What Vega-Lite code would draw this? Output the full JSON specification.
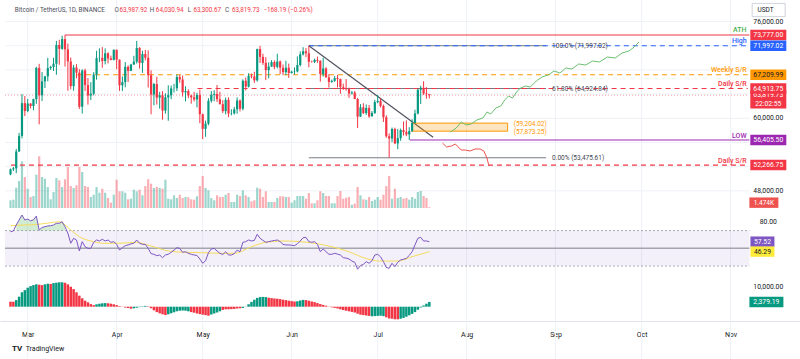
{
"$schema": "https://vega.github.io/schema/vega-lite/v6.json",
"width": 800,
"height": 359,
"autosize": {"type": "none"},
"padding": 0,
"background": "#ffffff",
"config": {"view": {"stroke": null}, "text": {"font": "Roboto"}, "axis": {"labelFont": "Roboto"}},
"datasets": {
"c": [
{"date":"2024-02-24","o":50732,"h":51698,"l":50585,"c":51571,"v":15.4,"rsi":68.7,"m":2500,"mu":0},
{"date":"2024-02-25","o":51571,"h":51950,"l":51280,"c":51733,"v":16.6,"rsi":69.5,"m":2500,"mu":0},
{"date":"2024-02-26","o":51733,"h":54938,"l":50931,"c":54522,"v":40.6,"rsi":76.3,"m":3300,"mu":1},
{"date":"2024-02-27","o":54522,"h":57588,"l":54450,"c":57085,"v":54,"rsi":81.9,"m":5000,"mu":1},
{"date":"2024-02-28","o":57085,"h":64000,"l":56690,"c":62504,"v":93.4,"rsi":87.5,"m":7200,"mu":1},
{"date":"2024-02-29","o":62504,"h":63676,"l":60364,"c":61198,"v":62,"rsi":81.9,"m":8300,"mu":1},
{"date":"2024-03-01","o":61198,"h":63200,"l":61000,"c":62440,"v":38.6,"rsi":83,"m":9500,"mu":1},
{"date":"2024-03-02","o":62440,"h":62485,"l":61610,"c":62029,"v":22,"rsi":81,"m":10300,"mu":1},
{"date":"2024-03-03","o":62029,"h":63230,"l":61320,"c":63168,"v":24,"rsi":82,"m":10800,"mu":1},
{"date":"2024-03-04","o":63168,"h":68500,"l":62386,"c":68330,"v":66.6,"rsi":86.4,"m":11200,"mu":1},
{"date":"2024-03-05","o":68330,"h":69000,"l":59005,"c":63801,"v":103.4,"rsi":70.6,"m":11000,"mu":0},
{"date":"2024-03-06","o":63801,"h":67637,"l":62848,"c":66106,"v":62,"rsi":73.5,"m":10800,"mu":0},
{"date":"2024-03-07","o":66106,"h":67000,"l":65002,"c":66926,"v":58.6,"rsi":74.4,"m":11200,"mu":1},
{"date":"2024-03-08","o":66926,"h":69990,"l":66121,"c":68300,"v":42,"rsi":75.2,"m":11500,"mu":1},
{"date":"2024-03-09","o":68300,"h":68669,"l":67993,"c":68498,"v":17.4,"rsi":75.5,"m":11400,"mu":0},
{"date":"2024-03-10","o":68498,"h":70000,"l":67819,"c":69020,"v":32,"rsi":76.3,"m":11800,"mu":1},
{"date":"2024-03-11","o":69020,"h":72800,"l":67195,"c":72124,"v":60,"rsi":78.2,"m":12000,"mu":1},
{"date":"2024-03-12","o":72124,"h":72969,"l":68845,"c":71481,"v":55.4,"rsi":78.2,"m":12200,"mu":1},
{"date":"2024-03-13","o":71481,"h":73650,"l":71334,"c":73083,"v":42,"rsi":80,"m":12200,"mu":1},
{"date":"2024-03-14","o":73083,"h":73777,"l":68555,"c":71397,"v":57.4,"rsi":74.4,"m":12000,"mu":0},
{"date":"2024-03-15","o":71397,"h":72358,"l":64555,"c":69403,"v":82,"rsi":67,"m":11200,"mu":0},
{"date":"2024-03-16","o":69403,"h":70043,"l":64780,"c":65316,"v":44,"rsi":55.7,"m":10000,"mu":0},
{"date":"2024-03-17","o":65316,"h":68845,"l":64545,"c":68390,"v":40,"rsi":61.3,"m":8800,"mu":0},
{"date":"2024-03-18","o":68390,"h":68957,"l":66600,"c":67548,"v":45.4,"rsi":59.4,"m":7200,"mu":0},
{"date":"2024-03-19","o":67548,"h":68125,"l":61555,"c":61913,"v":82,"rsi":47,"m":5500,"mu":0},
{"date":"2024-03-20","o":61913,"h":68100,"l":60775,"c":67913,"v":72,"rsi":57.5,"m":4200,"mu":0},
{"date":"2024-03-21","o":67913,"h":68200,"l":64529,"c":65491,"v":44,"rsi":51.8,"m":3000,"mu":0},
{"date":"2024-03-22","o":65491,"h":66650,"l":62260,"c":63778,"v":42,"rsi":50,"m":2200,"mu":0},
{"date":"2024-03-23","o":63778,"h":65975,"l":63000,"c":64062,"v":22,"rsi":50,"m":1300,"mu":0},
{"date":"2024-03-24","o":64062,"h":67624,"l":63790,"c":67234,"v":26.6,"rsi":56.8,"m":800,"mu":0},
{"date":"2024-03-25","o":67234,"h":71150,"l":66385,"c":69958,"v":42,"rsi":59.4,"m":1200,"mu":1},
{"date":"2024-03-26","o":69958,"h":71561,"l":69280,"c":69987,"v":30.6,"rsi":58.3,"m":1500,"mu":1},
{"date":"2024-03-27","o":69987,"h":71769,"l":68359,"c":69455,"v":38.6,"rsi":60.2,"m":1700,"mu":1},
{"date":"2024-03-28","o":69455,"h":71552,"l":68903,"c":70745,"v":30.6,"rsi":58.3,"m":1800,"mu":1},
{"date":"2024-03-29","o":70745,"h":70916,"l":69078,"c":69892,"v":20,"rsi":59.4,"m":1700,"mu":0},
{"date":"2024-03-30","o":69892,"h":70355,"l":69601,"c":69645,"v":10.6,"rsi":56.8,"m":1500,"mu":0},
{"date":"2024-03-31","o":69645,"h":71366,"l":69562,"c":71333,"v":26.6,"rsi":57.5,"m":1200,"mu":0},
{"date":"2024-04-01","o":71333,"h":71342,"l":68110,"c":69702,"v":56.6,"rsi":54.5,"m":800,"mu":0},
{"date":"2024-04-02","o":69702,"h":69708,"l":64533,"c":65447,"v":33.4,"rsi":48.1,"m":300,"mu":0},
{"date":"2024-04-03","o":65447,"h":66914,"l":64493,"c":65980,"v":33.4,"rsi":50.7,"m":-100,"mu":0},
{"date":"2024-04-04","o":65980,"h":69291,"l":65113,"c":68508,"v":30.6,"rsi":53,"m":-400,"mu":0},
{"date":"2024-04-05","o":68508,"h":68725,"l":66011,"c":67837,"v":17.4,"rsi":53.8,"m":-700,"mu":0},
{"date":"2024-04-06","o":67837,"h":69000,"l":67800,"c":68896,"v":18.6,"rsi":55,"m":-1000,"mu":0},
{"date":"2024-04-07","o":68896,"h":70326,"l":68824,"c":69360,"v":36.6,"rsi":55.7,"m":-800,"mu":1},
{"date":"2024-04-08","o":69360,"h":72797,"l":69043,"c":71620,"v":33.4,"rsi":59.4,"m":-500,"mu":1},
{"date":"2024-04-09","o":71620,"h":71758,"l":68210,"c":69146,"v":36.6,"rsi":55.7,"m":-200,"mu":1},
{"date":"2024-04-10","o":69146,"h":71172,"l":67518,"c":70631,"v":25.4,"rsi":54.5,"m":200,"mu":1},
{"date":"2024-04-11","o":70631,"h":71305,"l":69567,"c":70006,"v":44,"rsi":54.5,"m":400,"mu":1},
{"date":"2024-04-12","o":70006,"h":71227,"l":65086,"c":67117,"v":57.4,"rsi":50,"m":200,"mu":0},
{"date":"2024-04-13","o":67117,"h":67931,"l":60660,"c":63924,"v":48.6,"rsi":44,"m":-800,"mu":0},
{"date":"2024-04-14","o":63924,"h":65840,"l":62135,"c":65661,"v":40,"rsi":43.3,"m":-1800,"mu":0},
{"date":"2024-04-15","o":65661,"h":66867,"l":62274,"c":63419,"v":42,"rsi":41.7,"m":-2700,"mu":0},
{"date":"2024-04-16","o":63419,"h":64365,"l":61600,"c":63793,"v":40,"rsi":42.5,"m":-3300,"mu":0},
{"date":"2024-04-17","o":63793,"h":64499,"l":59768,"c":61277,"v":38.6,"rsi":39.5,"m":-3800,"mu":0},
{"date":"2024-04-18","o":61277,"h":64125,"l":60775,"c":63470,"v":56.6,"rsi":42.5,"m":-4200,"mu":0},
{"date":"2024-04-19","o":63470,"h":65450,"l":59600,"c":63819,"v":18.6,"rsi":43.3,"m":-3800,"mu":1},
{"date":"2024-04-20","o":63819,"h":65419,"l":63172,"c":64941,"v":17.4,"rsi":45.5,"m":-3300,"mu":1},
{"date":"2024-04-21","o":64941,"h":65695,"l":64278,"c":64960,"v":25.4,"rsi":48,"m":-2800,"mu":1},
{"date":"2024-04-22","o":64960,"h":67233,"l":64500,"c":66819,"v":20,"rsi":50.7,"m":-2300,"mu":1},
{"date":"2024-04-23","o":66819,"h":67199,"l":65864,"c":66414,"v":26.6,"rsi":50,"m":-2000,"mu":1},
{"date":"2024-04-24","o":66414,"h":67075,"l":63589,"c":64289,"v":20,"rsi":45.5,"m":-1900,"mu":1},
{"date":"2024-04-25","o":64289,"h":65297,"l":62794,"c":64499,"v":22,"rsi":46.2,"m":-2000,"mu":1},
{"date":"2024-04-26","o":64499,"h":64789,"l":63322,"c":63770,"v":21.4,"rsi":44.4,"m":-2300,"mu":1},
{"date":"2024-04-27","o":63770,"h":63923,"l":62424,"c":63461,"v":17.4,"rsi":43.3,"m":-2700,"mu":0},
{"date":"2024-04-28","o":63461,"h":64370,"l":62781,"c":63119,"v":16.6,"rsi":42.5,"m":-3000,"mu":0},
{"date":"2024-04-29","o":63119,"h":64228,"l":61794,"c":63866,"v":23.4,"rsi":42,"m":-3400,"mu":0},
{"date":"2024-04-30","o":63866,"h":64734,"l":59191,"c":60672,"v":44,"rsi":38,"m":-3700,"mu":0},
{"date":"2024-05-01","o":60672,"h":60780,"l":56552,"c":58254,"v":64,"rsi":33.2,"m":-4000,"mu":0},
{"date":"2024-05-02","o":58254,"h":59625,"l":56938,"c":59124,"v":40,"rsi":36,"m":-4200,"mu":0},
{"date":"2024-05-03","o":59124,"h":63320,"l":58848,"c":62889,"v":35.4,"rsi":45,"m":-4500,"mu":0},
{"date":"2024-05-04","o":62889,"h":64494,"l":62599,"c":63891,"v":20,"rsi":49.3,"m":-3900,"mu":1},
{"date":"2024-05-05","o":63891,"h":64646,"l":62822,"c":64031,"v":15.4,"rsi":50,"m":-3400,"mu":1},
{"date":"2024-05-06","o":64031,"h":65500,"l":62700,"c":63161,"v":25.4,"rsi":47,"m":-2900,"mu":1},
{"date":"2024-05-07","o":63161,"h":64390,"l":62300,"c":62334,"v":22,"rsi":44.4,"m":-2300,"mu":1},
{"date":"2024-05-08","o":62334,"h":62995,"l":60888,"c":61187,"v":22,"rsi":43,"m":-1600,"mu":0},
{"date":"2024-05-09","o":61187,"h":63420,"l":60648,"c":63049,"v":26.6,"rsi":46.2,"m":-1300,"mu":0},
{"date":"2024-05-10","o":63049,"h":63469,"l":60187,"c":60792,"v":30,"rsi":42.5,"m":-1300,"mu":0},
{"date":"2024-05-11","o":60792,"h":61490,"l":60488,"c":60825,"v":12,"rsi":42.5,"m":-1200,"mu":0},
{"date":"2024-05-12","o":60825,"h":61888,"l":60610,"c":61484,"v":12,"rsi":44,"m":-1100,"mu":0},
{"date":"2024-05-13","o":61484,"h":63450,"l":60750,"c":62940,"v":26.6,"rsi":48,"m":-900,"mu":0},
{"date":"2024-05-14","o":62940,"h":63118,"l":61142,"c":61577,"v":24,"rsi":46.2,"m":-800,"mu":0},
{"date":"2024-05-15","o":61577,"h":66444,"l":61330,"c":66206,"v":35.4,"rsi":56.8,"m":-600,"mu":1},
{"date":"2024-05-16","o":66206,"h":66752,"l":64602,"c":65235,"v":25.4,"rsi":57.5,"m":100,"mu":1},
{"date":"2024-05-17","o":65235,"h":67451,"l":65106,"c":67024,"v":22,"rsi":59.4,"m":1200,"mu":1},
{"date":"2024-05-18","o":67024,"h":67400,"l":66600,"c":66915,"v":13.4,"rsi":58.3,"m":2400,"mu":1},
{"date":"2024-05-19","o":66915,"h":67700,"l":65857,"c":66274,"v":15.4,"rsi":59,"m":3500,"mu":1},
{"date":"2024-05-20","o":66274,"h":71515,"l":66060,"c":71446,"v":40.6,"rsi":65.8,"m":4400,"mu":1},
{"date":"2024-05-21","o":71446,"h":71980,"l":69162,"c":70148,"v":38.6,"rsi":61.3,"m":4800,"mu":1},
{"date":"2024-05-22","o":70148,"h":70666,"l":68832,"c":69166,"v":22,"rsi":59,"m":4900,"mu":1},
{"date":"2024-05-23","o":69166,"h":70096,"l":66312,"c":67969,"v":33.4,"rsi":56.8,"m":4800,"mu":1},
{"date":"2024-05-24","o":67969,"h":69250,"l":66600,"c":68549,"v":12,"rsi":57.5,"m":4500,"mu":0},
{"date":"2024-05-25","o":68549,"h":69610,"l":68500,"c":69290,"v":12,"rsi":58.3,"m":4300,"mu":0},
{"date":"2024-05-26","o":69290,"h":69562,"l":68128,"c":68508,"v":12,"rsi":58.8,"m":4100,"mu":0},
{"date":"2024-05-27","o":68508,"h":70687,"l":68250,"c":69394,"v":20,"rsi":59.4,"m":4000,"mu":0},
{"date":"2024-05-28","o":69394,"h":69560,"l":67300,"c":68366,"v":23.4,"rsi":57.5,"m":3800,"mu":0},
{"date":"2024-05-29","o":68366,"h":68897,"l":67125,"c":67635,"v":23.4,"rsi":54.5,"m":3500,"mu":0},
{"date":"2024-05-30","o":67635,"h":69500,"l":67119,"c":68352,"v":22,"rsi":53.8,"m":3300,"mu":0},
{"date":"2024-05-31","o":68352,"h":69044,"l":66670,"c":67491,"v":22,"rsi":53.8,"m":3000,"mu":0},
{"date":"2024-06-01","o":67491,"h":67860,"l":67387,"c":67706,"v":10.6,"rsi":53.5,"m":2800,"mu":0},
{"date":"2024-06-02","o":67706,"h":68409,"l":67257,"c":67752,"v":15.4,"rsi":53,"m":2600,"mu":0},
{"date":"2024-06-03","o":67752,"h":70230,"l":67589,"c":68804,"v":24,"rsi":55,"m":2700,"mu":1},
{"date":"2024-06-04","o":68804,"h":71063,"l":68567,"c":70567,"v":24,"rsi":58.3,"m":3100,"mu":1},
{"date":"2024-06-05","o":70567,"h":71758,"l":70383,"c":71082,"v":24,"rsi":62,"m":3400,"mu":1},
{"date":"2024-06-06","o":71082,"h":71625,"l":70119,"c":70757,"v":18.6,"rsi":62.4,"m":3300,"mu":0},
{"date":"2024-06-07","o":70757,"h":71997,"l":68420,"c":69342,"v":30,"rsi":57.5,"m":3000,"mu":0},
{"date":"2024-06-08","o":69342,"h":69524,"l":69210,"c":69305,"v":9.4,"rsi":56.8,"m":2600,"mu":0},
{"date":"2024-06-09","o":69305,"h":69858,"l":69125,"c":69648,"v":9.4,"rsi":57.5,"m":2300,"mu":0},
{"date":"2024-06-10","o":69648,"h":70195,"l":69172,"c":69512,"v":15.4,"rsi":54.5,"m":1800,"mu":0},
{"date":"2024-06-11","o":69512,"h":69568,"l":66051,"c":67322,"v":33.4,"rsi":46.2,"m":1300,"mu":0},
{"date":"2024-06-12","o":67322,"h":69999,"l":66902,"c":68242,"v":30,"rsi":49.3,"m":900,"mu":0},
{"date":"2024-06-13","o":68242,"h":68450,"l":66761,"c":66757,"v":24,"rsi":46.2,"m":500,"mu":0},
{"date":"2024-06-14","o":66757,"h":67300,"l":65078,"c":66012,"v":24,"rsi":43.3,"m":100,"mu":0},
{"date":"2024-06-15","o":66012,"h":66402,"l":65871,"c":66191,"v":9.4,"rsi":43.3,"m":-300,"mu":0},
{"date":"2024-06-16","o":66191,"h":66983,"l":66031,"c":66640,"v":9.4,"rsi":44.4,"m":-600,"mu":0},
{"date":"2024-06-17","o":66640,"h":67188,"l":65104,"c":66490,"v":24,"rsi":43.5,"m":-900,"mu":0},
{"date":"2024-06-18","o":66490,"h":66556,"l":64066,"c":65159,"v":34,"rsi":42.5,"m":-1300,"mu":0},
{"date":"2024-06-19","o":65159,"h":65723,"l":64694,"c":64960,"v":18.6,"rsi":39.5,"m":-1700,"mu":0},
{"date":"2024-06-20","o":64960,"h":66482,"l":64560,"c":64829,"v":20.6,"rsi":39,"m":-2000,"mu":0},
{"date":"2024-06-21","o":64829,"h":65066,"l":63379,"c":64096,"v":22,"rsi":38,"m":-2300,"mu":0},
{"date":"2024-06-22","o":64096,"h":64520,"l":63944,"c":64253,"v":6.6,"rsi":35.7,"m":-2600,"mu":0},
{"date":"2024-06-23","o":64253,"h":64525,"l":63178,"c":63181,"v":8.6,"rsi":34.3,"m":-2900,"mu":0},
{"date":"2024-06-24","o":63181,"h":63369,"l":58402,"c":60277,"v":42,"rsi":26.5,"m":-3500,"mu":0},
{"date":"2024-06-25","o":60277,"h":62350,"l":60239,"c":61806,"v":25.4,"rsi":30.5,"m":-4000,"mu":0},
{"date":"2024-06-26","o":61806,"h":62487,"l":60712,"c":60865,"v":17.4,"rsi":32,"m":-4200,"mu":0},
{"date":"2024-06-27","o":60865,"h":62293,"l":60570,"c":61707,"v":16.6,"rsi":35,"m":-4400,"mu":0},
{"date":"2024-06-28","o":61707,"h":62200,"l":60070,"c":60320,"v":22,"rsi":33.2,"m":-4600,"mu":0},
{"date":"2024-06-29","o":60320,"h":61198,"l":60300,"c":60887,"v":14,"rsi":36,"m":-4800,"mu":1},
{"date":"2024-06-30","o":60887,"h":63058,"l":60705,"c":62673,"v":16.6,"rsi":42.5,"m":-4700,"mu":1},
{"date":"2024-07-01","o":62673,"h":63862,"l":62488,"c":62851,"v":22,"rsi":43.3,"m":-4600,"mu":1},
{"date":"2024-07-02","o":62851,"h":63289,"l":61781,"c":62029,"v":16.6,"rsi":40.5,"m":-4500,"mu":1},
{"date":"2024-07-03","o":62029,"h":62272,"l":59400,"c":60173,"v":26.6,"rsi":35,"m":-4700,"mu":1},
{"date":"2024-07-04","o":60173,"h":60498,"l":56771,"c":57031,"v":44,"rsi":28.5,"m":-5300,"mu":0},
{"date":"2024-07-05","o":57031,"h":57500,"l":53475,"c":56663,"v":64,"rsi":27.5,"m":-5900,"mu":0},
{"date":"2024-07-06","o":56663,"h":58472,"l":56038,"c":58232,"v":18.6,"rsi":33.2,"m":-6000,"mu":0},
{"date":"2024-07-07","o":58232,"h":58449,"l":55724,"c":55857,"v":38.6,"rsi":29.4,"m":-6300,"mu":0},
{"date":"2024-07-08","o":55857,"h":58236,"l":54900,"c":56714,"v":20,"rsi":34.3,"m":-6300,"mu":0},
{"date":"2024-07-09","o":56714,"h":58296,"l":56289,"c":58050,"v":22,"rsi":36.9,"m":-6000,"mu":1},
{"date":"2024-07-10","o":58050,"h":59470,"l":57157,"c":57725,"v":18.6,"rsi":37.7,"m":-5600,"mu":1},
{"date":"2024-07-11","o":57725,"h":59650,"l":57050,"c":57339,"v":20,"rsi":38.8,"m":-5000,"mu":1},
{"date":"2024-07-12","o":57339,"h":58526,"l":56405,"c":57873,"v":16.6,"rsi":42,"m":-4300,"mu":1},
{"date":"2024-07-13","o":57873,"h":59850,"l":57756,"c":59204,"v":22,"rsi":46.2,"m":-3600,"mu":1},
{"date":"2024-07-14","o":59204,"h":61420,"l":59198,"c":60797,"v":18.6,"rsi":53.8,"m":-2700,"mu":1},
{"date":"2024-07-15","o":60797,"h":64900,"l":60632,"c":64724,"v":32,"rsi":61.3,"m":-1500,"mu":1},
{"date":"2024-07-16","o":64724,"h":65388,"l":62373,"c":65043,"v":34,"rsi":62.4,"m":-400,"mu":1},
{"date":"2024-07-17","o":65043,"h":66128,"l":63855,"c":64087,"v":24,"rsi":58.3,"m":600,"mu":1},
{"date":"2024-07-18","o":64087,"h":65133,"l":63238,"c":63988,"v":20,"rsi":58.3,"m":1500,"mu":1},
{"date":"2024-07-19","o":63988,"h":64031,"l":63301,"c":63820,"v":1.474,"rsi":57.52,"m":2379,"mu":1}
],
"ma": [
{"date":"2024-02-24","ma":75.5},{"date":"2024-02-29","ma":76.3},{"date":"2024-03-04T12:00:00Z","ma":77},{"date":"2024-03-10","ma":79.3},{"date":"2024-03-12","ma":80},{"date":"2024-03-14","ma":76.3},{"date":"2024-03-16","ma":70.6},{"date":"2024-03-19","ma":63.1},{"date":"2024-03-24","ma":57.5},{"date":"2024-03-27","ma":55.7},{"date":"2024-04-02","ma":55.7},{"date":"2024-04-08","ma":56.8},{"date":"2024-04-11","ma":54.5},{"date":"2024-04-15","ma":50.7},{"date":"2024-04-19","ma":47},{"date":"2024-04-25","ma":45.5},{"date":"2024-05-01","ma":45.1},{"date":"2024-05-07","ma":44.4},{"date":"2024-05-12","ma":44.4},{"date":"2024-05-18","ma":51.8},{"date":"2024-05-23","ma":56.8},{"date":"2024-05-29","ma":58.3},{"date":"2024-06-04","ma":57.5},{"date":"2024-06-09","ma":55.7},{"date":"2024-06-15","ma":51.8},{"date":"2024-06-21","ma":46.2},{"date":"2024-06-26","ma":39.5},{"date":"2024-07-02","ma":35.7},{"date":"2024-07-08","ma":35.7},{"date":"2024-07-13","ma":40.6},{"date":"2024-07-19","ma":46.29}
],
"months": [{"date":"2024-03-01"},{"date":"2024-04-01"},{"date":"2024-05-01"},{"date":"2024-06-01"},{"date":"2024-07-01"},{"date":"2024-08-01"},{"date":"2024-09-01"},{"date":"2024-10-01"},{"date":"2024-11-01"}],
"pgrid": [
{"date":"2024-02-22T02:00:00Z","date2":"2024-11-07T14:00:00Z","price":48000},
{"date":"2024-02-22T02:00:00Z","date2":"2024-11-07T14:00:00Z","price":52000},
{"date":"2024-02-22T02:00:00Z","date2":"2024-11-07T14:00:00Z","price":56000},
{"date":"2024-02-22T02:00:00Z","date2":"2024-11-07T14:00:00Z","price":60000},
{"date":"2024-02-22T02:00:00Z","date2":"2024-11-07T14:00:00Z","price":64000},
{"date":"2024-02-22T02:00:00Z","date2":"2024-11-07T14:00:00Z","price":68000},
{"date":"2024-02-22T02:00:00Z","date2":"2024-11-07T14:00:00Z","price":72000},
{"date":"2024-02-22T02:00:00Z","date2":"2024-11-07T14:00:00Z","price":76000}
],
"levels": [
{"date":"2024-03-14","date2":"2024-11-07T14:00:00Z","price":73777,"lvl":"ath"},
{"date":"2024-06-07","date2":"2024-11-07T00:00:00Z","price":71997.02,"lvl":"high"},
{"date":"2024-03-18T05:00:00Z","date2":"2024-11-07T00:00:00Z","price":67209.99,"lvl":"weekly"},
{"date":"2024-04-29T05:00:00Z","date2":"2024-11-07T00:00:00Z","price":64913.75,"lvl":"daily"},
{"date":"2024-07-12T05:00:00Z","date2":"2024-11-07T14:00:00Z","price":56405.5,"lvl":"low"},
{"date":"2024-02-24T04:00:00Z","date2":"2024-11-07T00:00:00Z","price":52266.75,"lvl":"daily2"}
],
"fib": [
{"date":"2024-06-07","date2":"2024-08-28T17:00:00Z","price":71997.02},
{"date":"2024-06-07","date2":"2024-08-28T17:00:00Z","price":64924.84},
{"date":"2024-06-07","date2":"2024-08-28T17:00:00Z","price":53475.61}
],
"fibt": [
{"date":"2024-08-30T19:00:00Z","price":71997.02,"t":"100.0% (71,997.02)"},
{"date":"2024-08-30T19:00:00Z","price":64924.84,"t":"61.80% (64,924.84)"},
{"date":"2024-08-30T19:00:00Z","price":53475.61,"t":"0.00% (53,475.61)"}
],
"zone": [{"date":"2024-07-12T20:00:00Z","date2":"2024-08-15T07:00:00Z","price":59204.02,"price2":57873.25}],
"zonet": [
{"date":"2024-08-17T10:00:00Z","price":59204.02,"t":"(59,204.02)"},
{"date":"2024-08-17T10:00:00Z","price":57873.25,"t":"(57,873.25)"}
],
"trend": [{"date":"2024-06-07","date2":"2024-07-20T08:00:00Z","price":71997.02,"price2":56860}],
"green": [
{"date":"2024-07-26T08:00:00Z","price":57735},{"date":"2024-07-28T10:00:00Z","price":58397},{"date":"2024-07-30T03:00:00Z","price":59388},{"date":"2024-07-31T19:00:00Z","price":58892},{"date":"2024-08-02T14:00:00Z","price":59058},{"date":"2024-08-04T14:00:00Z","price":59719},{"date":"2024-08-06T17:00:00Z","price":60050},{"date":"2024-08-08T02:00:00Z","price":61041},{"date":"2024-08-09T10:00:00Z","price":60711},{"date":"2024-08-11T05:00:00Z","price":61703},{"date":"2024-08-12T22:00:00Z","price":62033},{"date":"2024-08-14T07:00:00Z","price":63025},{"date":"2024-08-15T14:00:00Z","price":63686},{"date":"2024-08-17T00:00:00Z","price":63356},{"date":"2024-08-18T10:00:00Z","price":64347},{"date":"2024-08-19T19:00:00Z","price":65009},{"date":"2024-08-21T12:00:00Z","price":65339},{"date":"2024-08-23T05:00:00Z","price":65174},{"date":"2024-08-25T07:00:00Z","price":66166},{"date":"2024-08-27T07:00:00Z","price":66827},{"date":"2024-08-29T10:00:00Z","price":67157},{"date":"2024-08-31T12:00:00Z","price":67819},{"date":"2024-09-02T12:00:00Z","price":67488},{"date":"2024-09-04T14:00:00Z","price":68314},{"date":"2024-09-06T17:00:00Z","price":68149},{"date":"2024-09-09T02:00:00Z","price":68975},{"date":"2024-09-11T12:00:00Z","price":68810},{"date":"2024-09-13T22:00:00Z","price":69471},{"date":"2024-09-16T07:00:00Z","price":69306},{"date":"2024-09-19T02:00:00Z","price":70132},{"date":"2024-09-21T19:00:00Z","price":69967},{"date":"2024-09-24T05:00:00Z","price":70793},{"date":"2024-09-26T14:00:00Z","price":71124},{"date":"2024-09-28T10:00:00Z","price":71785},{"date":"2024-09-30T02:00:00Z","price":72612}
],
"red": [
{"date":"2024-07-23T14:00:00Z","price":55917},{"date":"2024-07-25T00:00:00Z","price":55256},{"date":"2024-07-26T17:00:00Z","price":55421},{"date":"2024-07-28T02:00:00Z","price":55752},{"date":"2024-07-29T02:00:00Z","price":55256},{"date":"2024-07-30T03:00:00Z","price":54760},{"date":"2024-07-31T12:00:00Z","price":54760},{"date":"2024-08-02T05:00:00Z","price":54595},{"date":"2024-08-03T22:00:00Z","price":54925},{"date":"2024-08-05T17:00:00Z","price":54925},{"date":"2024-08-07T00:00:00Z","price":54595},{"date":"2024-08-08T02:00:00Z","price":53438},{"date":"2024-08-08T19:00:00Z","price":52116}
],
"ann": [
{"date":"2024-11-06T14:00:00Z","price":73777,"t":"ATH","lvl":"athtxt"},
{"date":"2024-11-06T14:00:00Z","price":71997.02,"t":"High","lvl":"high"},
{"date":"2024-11-06T14:00:00Z","price":67209.99,"t":"Weekly S/R","lvl":"weekly"},
{"date":"2024-11-06T14:00:00Z","price":64913.75,"t":"Daily S/R","lvl":"daily"},
{"date":"2024-11-06T14:00:00Z","price":56405.5,"t":"LOW","lvl":"low"},
{"date":"2024-11-06T14:00:00Z","price":52266.75,"t":"Daily S/R","lvl":"daily2"}
],
"ptick": [
{"date":"2024-11-14T04:00:00Z","price":76000,"t":"76,000.00"},
{"date":"2024-11-14T04:00:00Z","price":60000,"t":"60,000.00"},
{"date":"2024-11-14T04:00:00Z","price":48000,"t":"48,000.00"}
],
"pbox": [
{"date":"2024-11-14T04:00:00Z","price":73777,"t":"73,777.00","lvl":"ath"},
{"date":"2024-11-14T04:00:00Z","price":71997.02,"t":"71,997.02","lvl":"high"},
{"date":"2024-11-14T04:00:00Z","price":67209.99,"t":"67,209.99","lvl":"weekly"},
{"date":"2024-11-14T04:00:00Z","price":64913.75,"t":"64,913.75","lvl":"daily"},
{"date":"2024-11-14T04:00:00Z","price":56405.5,"t":"56,405.50","lvl":"low"},
{"date":"2024-11-14T04:00:00Z","price":52266.75,"t":"52,266.75","lvl":"daily2"}
],
"cur": [{"date":"2024-11-14T04:00:00Z","price":63819.73,"t":"63,819.73","t2":"22:02:55","lvl":"cur"}],
"hg": [
{"date":"2024-02-25T12:36:00Z","price":77900,"t":"Bitcoin / TetherUS, 1D, BINANCE"},
{"date":"2024-03-31T07:00:00Z","price":77900,"t":"O"},
{"date":"2024-04-12T14:00:00Z","price":77900,"t":"H"},
{"date":"2024-04-25T18:30:00Z","price":77900,"t":"L"},
{"date":"2024-05-08T18:00:00Z","price":77900,"t":"C"}
],
"hr": [
{"date":"2024-03-31T23:30:00Z","price":77900,"t":"63,987.92"},
{"date":"2024-04-13T15:00:00Z","price":77900,"t":"64,030.94"},
{"date":"2024-04-26T17:00:00Z","price":77900,"t":"63,300.67"},
{"date":"2024-05-10T03:00:00Z","price":77900,"t":"63,819.73"},
{"date":"2024-05-21T03:00:00Z","price":77900,"t":"−168.19 (−0.26%)"}
]
},
"encoding": {
"x": {"field": "date", "type": "temporal",
 "scale": {"type": "utc", "nice": false, "domain": [{"year":2024,"month":2,"date":22,"hours":2,"utc":true},{"year":2024,"month":11,"date":23,"hours":11,"minutes":20,"utc":true}]},
 "axis": {"title": null, "format": "%b", "grid": false, "ticks": false, "domain": true, "domainColor": "#e0e3eb", "labelFontSize": 7, "labelColor": "#131722", "labelPadding": 9, "offset": -38, "labelFlush": false,
  "values": [{"year":2024,"month":3,"date":1,"utc":true},{"year":2024,"month":4,"date":1,"utc":true},{"year":2024,"month":5,"date":1,"utc":true},{"year":2024,"month":6,"date":1,"utc":true},{"year":2024,"month":7,"date":1,"utc":true},{"year":2024,"month":8,"date":1,"utc":true},{"year":2024,"month":9,"date":1,"utc":true},{"year":2024,"month":10,"date":1,"utc":true},{"year":2024,"month":11,"date":1,"utc":true}]}}
},
"resolve": {"scale": {"y": "independent"}},
"layer": [
{"data": {"name": "months"}, "mark": {"type": "rule", "color": "#eef1f6", "strokeWidth": 1}, "encoding": {}},
{"data": {"name": "pgrid"}, "mark": {"type": "rule", "color": "#eef1f6", "strokeWidth": 1},
 "encoding": {"x2": {"field": "date2"}, "y": {"field": "price", "type": "quantitative", "scale": {"domain": [45000, 80000], "range": [209.05, -2.7], "nice": false, "zero": false}, "axis": null}}},
{"layer": [
 {"data": {"name": "c"}, "mark": {"type": "bar", "size": 2.2, "opacity": 0.4, "orient": "vertical"},
  "encoding": {"y": {"field": "v", "type": "quantitative", "scale": {"domain": [0, 100], "range": [208, 158], "nice": false}, "axis": null},
   "color": {"condition": {"test": "datum.c >= datum.o", "value": "#089981"}, "value": "#f23645"}}},
 {"data": {"values": [{"date": "2024-11-12T15:00:00Z", "v": 1.474, "t": "1.474K", "lvl": "vol"}]},
  "mark": {"type": "point", "shape": "M-1,-0.359L1,-0.359L1,0.359L-1,0.359Z", "size": 841, "filled": true, "opacity": 1, "yOffset": -4.6},
  "encoding": {"y": {"field": "v", "type": "quantitative", "scale": {"domain": [0, 100], "range": [208, 158], "nice": false}, "axis": null},
   "color": {"field": "lvl", "type": "nominal", "legend": null, "scale": {"domain": ["ath","athtxt","high","weekly","daily","cur","low","daily2","vol","rsi","rsima","macd"], "range": ["#f23645","#4caf50","#2962ff","#ff9800","#f23645","#f23645","#9c27b0","#f23645","#ef5350","#7e57c2","#ffeb3b","#089981"]}}}},
 {"data": {"values": [{"date": "2024-11-12T15:00:00Z", "v": 1.474, "t": "1.474K"}]},
  "mark": {"type": "text", "fontSize": 6.5, "color": "#ffffff", "yOffset": -4.6, "align": "center", "baseline": "middle"},
  "encoding": {"y": {"field": "v", "type": "quantitative", "scale": {"domain": [0, 100], "range": [208, 158], "nice": false}, "axis": null}, "text": {"field": "t", "type": "nominal"}}}
]},
{"layer": [
 {"data": {"values": [{"date": "2024-02-22T02:00:00Z", "date2": "2024-11-07T00:00:00Z", "price": 63819.73}]},
  "mark": {"type": "rule", "color": "#f23645", "strokeWidth": 1, "strokeDash": [1, 2], "opacity": 0.45},
  "encoding": {"x2": {"field": "date2"}, "y": {"field": "price", "type": "quantitative", "scale": {"domain": [45000, 80000], "range": [209.05, -2.7], "nice": false, "zero": false}, "axis": null}}},
 {"data": {"name": "fib"}, "mark": {"type": "rule", "color": "#787b86", "strokeWidth": 1},
  "encoding": {"x2": {"field": "date2"}, "y": {"field": "price", "type": "quantitative", "scale": {"domain": [45000, 80000], "range": [209.05, -2.7], "nice": false, "zero": false}, "axis": null}}},
 {"data": {"name": "levels"}, "mark": {"type": "rule", "strokeWidth": 1.1},
  "encoding": {"x2": {"field": "date2"}, "y": {"field": "price", "type": "quantitative", "scale": {"domain": [45000, 80000], "range": [209.05, -2.7], "nice": false, "zero": false}, "axis": null},
   "color": {"field": "lvl", "type": "nominal", "legend": null, "scale": {"domain": ["ath","athtxt","high","weekly","daily","cur","low","daily2","vol","rsi","rsima","macd"], "range": ["#f23645","#4caf50","#2962ff","#ff9800","#f23645","#f23645","#9c27b0","#f23645","#ef5350","#7e57c2","#ffeb3b","#089981"]}},
   "strokeDash": {"field": "lvl", "type": "nominal", "legend": null, "scale": {"domain": ["ath","high","weekly","daily","low","daily2"], "range": [[1,0],[5,4],[5,4],[5,4],[1,0],[5,4]]}}}},
 {"data": {"name": "trend"}, "mark": {"type": "rule", "color": "#50535e", "strokeWidth": 1.2},
  "encoding": {"x2": {"field": "date2"}, "y": {"field": "price", "type": "quantitative", "scale": {"domain": [45000, 80000], "range": [209.05, -2.7], "nice": false, "zero": false}, "axis": null}, "y2": {"field": "price2"}}},
 {"data": {"name": "zone"}, "mark": {"type": "rect", "color": "#ff9800", "fillOpacity": 0.25, "stroke": "#ff9800", "strokeWidth": 1},
  "encoding": {"x2": {"field": "date2"}, "y": {"field": "price", "type": "quantitative", "scale": {"domain": [45000, 80000], "range": [209.05, -2.7], "nice": false, "zero": false}, "axis": null}, "y2": {"field": "price2"}}},
 {"data": {"name": "green"}, "mark": {"type": "line", "color": "#6cc070", "strokeWidth": 1},
  "encoding": {"y": {"field": "price", "type": "quantitative", "scale": {"domain": [45000, 80000], "range": [209.05, -2.7], "nice": false, "zero": false}, "axis": null}}},
 {"data": {"name": "red"}, "mark": {"type": "line", "color": "#ef5350", "strokeWidth": 1},
  "encoding": {"y": {"field": "price", "type": "quantitative", "scale": {"domain": [45000, 80000], "range": [209.05, -2.7], "nice": false, "zero": false}, "axis": null}}},
 {"data": {"name": "c"}, "mark": {"type": "rule", "strokeWidth": 1},
  "encoding": {"y": {"field": "l", "type": "quantitative", "scale": {"domain": [45000, 80000], "range": [209.05, -2.7], "nice": false, "zero": false}, "axis": null}, "y2": {"field": "h"},
   "color": {"condition": {"test": "datum.c >= datum.o", "value": "#089981"}, "value": "#f23645"}}},
 {"data": {"name": "c"}, "mark": {"type": "bar", "size": 2.2, "orient": "vertical"},
  "encoding": {"y": {"field": "o", "type": "quantitative", "scale": {"domain": [45000, 80000], "range": [209.05, -2.7], "nice": false, "zero": false}, "axis": null}, "y2": {"field": "c"},
   "color": {"condition": {"test": "datum.c >= datum.o", "value": "#089981"}, "value": "#f23645"}}},
 {"data": {"name": "fibt"}, "mark": {"type": "text", "fontSize": 6.5, "color": "#434651", "align": "left", "baseline": "middle"},
  "encoding": {"y": {"field": "price", "type": "quantitative", "scale": {"domain": [45000, 80000], "range": [209.05, -2.7], "nice": false, "zero": false}, "axis": null}, "text": {"field": "t", "type": "nominal"}}},
 {"data": {"name": "zonet"}, "mark": {"type": "text", "fontSize": 6.5, "color": "#ff9800", "align": "left", "baseline": "middle", "dy": 1},
  "encoding": {"y": {"field": "price", "type": "quantitative", "scale": {"domain": [45000, 80000], "range": [209.05, -2.7], "nice": false, "zero": false}, "axis": null}, "text": {"field": "t", "type": "nominal"}}},
 {"data": {"name": "ann"}, "mark": {"type": "text", "fontSize": 7, "align": "right", "baseline": "bottom", "dy": -1.5, "fontWeight": 500},
  "encoding": {"y": {"field": "price", "type": "quantitative", "scale": {"domain": [45000, 80000], "range": [209.05, -2.7], "nice": false, "zero": false}, "axis": null}, "text": {"field": "t", "type": "nominal"},
   "color": {"field": "lvl", "type": "nominal", "legend": null, "scale": {"domain": ["ath","athtxt","high","weekly","daily","cur","low","daily2","vol","rsi","rsima","macd"], "range": ["#f23645","#4caf50","#2962ff","#ff9800","#f23645","#f23645","#9c27b0","#f23645","#ef5350","#7e57c2","#ffeb3b","#089981"]}}}},
 {"data": {"name": "hg"}, "mark": {"type": "text", "fontSize": 6.3, "color": "#4a4e5a", "align": "left", "baseline": "middle"},
  "encoding": {"y": {"field": "price", "type": "quantitative", "scale": {"domain": [45000, 80000], "range": [209.05, -2.7], "nice": false, "zero": false}, "axis": null}, "text": {"field": "t", "type": "nominal"}}},
 {"data": {"name": "hr"}, "mark": {"type": "text", "fontSize": 6.3, "color": "#f23645", "align": "left", "baseline": "middle", "dx": 3},
  "encoding": {"y": {"field": "price", "type": "quantitative", "scale": {"domain": [45000, 80000], "range": [209.05, -2.7], "nice": false, "zero": false}, "axis": null}, "text": {"field": "t", "type": "nominal"}}},
 {"data": {"name": "ptick"}, "mark": {"type": "text", "fontSize": 6.8, "color": "#131722", "align": "center", "baseline": "middle"},
  "encoding": {"y": {"field": "price", "type": "quantitative", "scale": {"domain": [45000, 80000], "range": [209.05, -2.7], "nice": false, "zero": false}, "axis": null}, "text": {"field": "t", "type": "nominal"}}},
 {"data": {"name": "cur"}, "mark": {"type": "point", "shape": "M-1,-0.5L1,-0.5L1,0.5L-1,0.5Z", "size": 1296, "filled": true, "opacity": 1, "yOffset": 4.3},
  "encoding": {"y": {"field": "price", "type": "quantitative", "scale": {"domain": [45000, 80000], "range": [209.05, -2.7], "nice": false, "zero": false}, "axis": null},
   "color": {"field": "lvl", "type": "nominal", "legend": null, "scale": {"domain": ["ath","athtxt","high","weekly","daily","cur","low","daily2","vol","rsi","rsima","macd"], "range": ["#f23645","#4caf50","#2962ff","#ff9800","#f23645","#f23645","#9c27b0","#f23645","#ef5350","#7e57c2","#ffeb3b","#089981"]}}}},
 {"data": {"name": "cur"}, "mark": {"type": "text", "fontSize": 6.8, "color": "#ffffff", "align": "center", "baseline": "middle"},
  "encoding": {"y": {"field": "price", "type": "quantitative", "scale": {"domain": [45000, 80000], "range": [209.05, -2.7], "nice": false, "zero": false}, "axis": null}, "text": {"field": "t", "type": "nominal"}}},
 {"data": {"name": "cur"}, "mark": {"type": "text", "fontSize": 6.8, "color": "#ffffff", "align": "center", "baseline": "middle", "yOffset": 8.5},
  "encoding": {"y": {"field": "price", "type": "quantitative", "scale": {"domain": [45000, 80000], "range": [209.05, -2.7], "nice": false, "zero": false}, "axis": null}, "text": {"field": "t2", "type": "nominal"}}},
 {"data": {"name": "pbox"}, "mark": {"type": "point", "shape": "M-1,-0.29L1,-0.29L1,0.29L-1,0.29Z", "size": 1296, "filled": true, "opacity": 1},
  "encoding": {"y": {"field": "price", "type": "quantitative", "scale": {"domain": [45000, 80000], "range": [209.05, -2.7], "nice": false, "zero": false}, "axis": null},
   "color": {"field": "lvl", "type": "nominal", "legend": null, "scale": {"domain": ["ath","athtxt","high","weekly","daily","cur","low","daily2","vol","rsi","rsima","macd"], "range": ["#f23645","#4caf50","#2962ff","#ff9800","#f23645","#f23645","#9c27b0","#f23645","#ef5350","#7e57c2","#ffeb3b","#089981"]}}}},
 {"data": {"name": "pbox"}, "mark": {"type": "text", "fontSize": 6.8, "align": "center", "baseline": "middle"},
  "encoding": {"y": {"field": "price", "type": "quantitative", "scale": {"domain": [45000, 80000], "range": [209.05, -2.7], "nice": false, "zero": false}, "axis": null}, "text": {"field": "t", "type": "nominal"},
   "color": {"condition": {"test": "datum.lvl === 'weekly'", "value": "#131722"}, "value": "#ffffff"}}},
 {"data": {"values": [{"date": "2024-11-14T07:00:00Z", "price": 77900}]},
  "mark": {"type": "point", "shape": "M-1,-0.4L1,-0.4L1,0.4L-1,0.4Z", "size": 1089, "filled": true, "fill": "#ffffff", "stroke": "#d1d4dc", "strokeWidth": 1, "opacity": 1},
  "encoding": {"y": {"field": "price", "type": "quantitative", "scale": {"domain": [45000, 80000], "range": [209.05, -2.7], "nice": false, "zero": false}, "axis": null}}},
 {"data": {"values": [{"date": "2024-11-10T10:00:00Z", "price": 77900, "t": "USDT"}]},
  "mark": {"type": "text", "fontSize": 6.5, "color": "#131722", "align": "left", "baseline": "middle"},
  "encoding": {"y": {"field": "price", "type": "quantitative", "scale": {"domain": [45000, 80000], "range": [209.05, -2.7], "nice": false, "zero": false}, "axis": null}, "text": {"field": "t", "type": "nominal"}}}
]},
{"layer": [
 {"data": {"values": [{"date": "2024-02-22T02:00:00Z", "date2": "2024-11-07T14:00:00Z", "hi": 70, "lo": 30}]},
  "mark": {"type": "rect", "color": "#7e57c2", "opacity": 0.09},
  "encoding": {"x2": {"field": "date2"}, "y": {"field": "hi", "type": "quantitative", "scale": {"domain": [0, 100], "range": [292.74, 203.94], "nice": false, "zero": false}, "axis": null}, "y2": {"field": "lo"}}},
 {"data": {"values": [{"date": "2024-02-22T02:00:00Z", "date2": "2024-11-07T14:00:00Z", "rsi": 70}, {"date": "2024-02-22T02:00:00Z", "date2": "2024-11-07T14:00:00Z", "rsi": 30}]},
  "mark": {"type": "rule", "color": "#9598a1", "strokeWidth": 0.8, "strokeDash": [2, 2]},
  "encoding": {"x2": {"field": "date2"}, "y": {"field": "rsi", "type": "quantitative", "scale": {"domain": [0, 100], "range": [292.74, 203.94], "nice": false, "zero": false}, "axis": null}}},
 {"data": {"values": [{"date": "2024-02-22T02:00:00Z", "date2": "2024-11-07T14:00:00Z", "rsi": 50}]},
  "mark": {"type": "rule", "color": "#9598a1", "strokeWidth": 1.5, "opacity": 0.85},
  "encoding": {"x2": {"field": "date2"}, "y": {"field": "rsi", "type": "quantitative", "scale": {"domain": [0, 100], "range": [292.74, 203.94], "nice": false, "zero": false}, "axis": null}}},
 {"data": {"name": "c"}, "transform": [{"filter": "datum.rsi > 70"}],
  "mark": {"type": "area", "color": "#4caf50", "opacity": 0.25},
  "encoding": {"y": {"field": "rsi", "type": "quantitative", "scale": {"domain": [0, 100], "range": [292.74, 203.94], "nice": false, "zero": false}, "axis": null}, "y2": {"datum": 70}}},
 {"data": {"name": "ma"}, "mark": {"type": "line", "color": "#f5dc5a", "strokeWidth": 1, "interpolate": "monotone"},
  "encoding": {"y": {"field": "ma", "type": "quantitative", "scale": {"domain": [0, 100], "range": [292.74, 203.94], "nice": false, "zero": false}, "axis": null}}},
 {"data": {"name": "c"}, "mark": {"type": "line", "color": "#7e57c2", "strokeWidth": 1},
  "encoding": {"y": {"field": "rsi", "type": "quantitative", "scale": {"domain": [0, 100], "range": [292.74, 203.94], "nice": false, "zero": false}, "axis": null}}},
 {"data": {"values": [{"date": "2024-11-14T04:00:00Z", "rsi": 80, "t": "80.00"}]},
  "mark": {"type": "text", "fontSize": 6.8, "color": "#131722", "align": "center", "baseline": "middle"},
  "encoding": {"y": {"field": "rsi", "type": "quantitative", "scale": {"domain": [0, 100], "range": [292.74, 203.94], "nice": false, "zero": false}, "axis": null}, "text": {"field": "t", "type": "nominal"}}},
 {"data": {"values": [{"date": "2024-11-12T03:00:00Z", "rsi": 57.52, "t": "57.52", "lvl": "rsi"}, {"date": "2024-11-12T03:00:00Z", "rsi": 46.29, "t": "46.29", "lvl": "rsima"}]},
  "layer": [
   {"mark": {"type": "point", "shape": "M-1,-0.433L1,-0.433L1,0.433L-1,0.433Z", "size": 576, "filled": true, "opacity": 1},
    "encoding": {"y": {"field": "rsi", "type": "quantitative", "scale": {"domain": [0, 100], "range": [292.74, 203.94], "nice": false, "zero": false}, "axis": null},
     "color": {"field": "lvl", "type": "nominal", "legend": null, "scale": {"domain": ["ath","athtxt","high","weekly","daily","cur","low","daily2","vol","rsi","rsima","macd"], "range": ["#f23645","#4caf50","#2962ff","#ff9800","#f23645","#f23645","#9c27b0","#f23645","#ef5350","#7e57c2","#ffeb3b","#089981"]}}}},
   {"mark": {"type": "text", "fontSize": 6.8, "align": "center", "baseline": "middle"},
    "encoding": {"y": {"field": "rsi", "type": "quantitative", "scale": {"domain": [0, 100], "range": [292.74, 203.94], "nice": false, "zero": false}, "axis": null}, "text": {"field": "t", "type": "nominal"},
     "color": {"condition": {"test": "datum.lvl === 'rsima'", "value": "#131722"}, "value": "#ffffff"}}}
  ]}
]},
{"layer": [
 {"data": {"name": "c"}, "mark": {"type": "bar", "size": 2.5, "orient": "vertical"},
  "encoding": {"y": {"field": "m", "type": "quantitative", "scale": {"domain": [-10000, 10000], "range": [326.7, 286.7], "nice": false}, "axis": null},
   "color": {"condition": {"test": "datum.mu == 1", "value": "#089981"}, "value": "#f23645"}}},
 {"data": {"values": [{"date": "2024-11-14T04:00:00Z", "m": 10000, "t": "10,000.00"}]},
  "mark": {"type": "text", "fontSize": 6.8, "color": "#131722", "align": "center", "baseline": "middle"},
  "encoding": {"y": {"field": "m", "type": "quantitative", "scale": {"domain": [-10000, 10000], "range": [326.7, 286.7], "nice": false}, "axis": null}, "text": {"field": "t", "type": "nominal"}}},
 {"data": {"values": [{"date": "2024-11-13T12:00:00Z", "m": 2379.19, "t": "2,379.19", "lvl": "macd"}]},
  "layer": [
   {"mark": {"type": "point", "shape": "M-1,-0.306L1,-0.306L1,0.306L-1,0.306Z", "size": 1156, "filled": true, "opacity": 1},
    "encoding": {"y": {"field": "m", "type": "quantitative", "scale": {"domain": [-10000, 10000], "range": [326.7, 286.7], "nice": false}, "axis": null},
     "color": {"field": "lvl", "type": "nominal", "legend": null, "scale": {"domain": ["ath","athtxt","high","weekly","daily","cur","low","daily2","vol","rsi","rsima","macd"], "range": ["#f23645","#4caf50","#2962ff","#ff9800","#f23645","#f23645","#9c27b0","#f23645","#ef5350","#7e57c2","#ffeb3b","#089981"]}}}},
   {"mark": {"type": "text", "fontSize": 6.8, "color": "#ffffff", "align": "center", "baseline": "middle"},
    "encoding": {"y": {"field": "m", "type": "quantitative", "scale": {"domain": [-10000, 10000], "range": [326.7, 286.7], "nice": false}, "axis": null}, "text": {"field": "t", "type": "nominal"}}}
  ]},
 {"data": {"values": [{"date": "2024-02-24T12:00:00Z", "m": -21150, "t": "TV"}]},
  "mark": {"type": "text", "fontSize": 8, "fontWeight": "bold", "color": "#131722", "align": "left", "baseline": "middle"},
  "encoding": {"y": {"field": "m", "type": "quantitative", "scale": {"domain": [-10000, 10000], "range": [326.7, 286.7], "nice": false}, "axis": null}, "text": {"field": "t", "type": "nominal"}}},
 {"data": {"values": [{"date": "2024-02-29T07:00:00Z", "m": -21150, "t": "TradingView"}]},
  "mark": {"type": "text", "fontSize": 7, "color": "#131722", "align": "left", "baseline": "middle"},
  "encoding": {"y": {"field": "m", "type": "quantitative", "scale": {"domain": [-10000, 10000], "range": [326.7, 286.7], "nice": false}, "axis": null}, "text": {"field": "t", "type": "nominal"}}}
]}
]
}
